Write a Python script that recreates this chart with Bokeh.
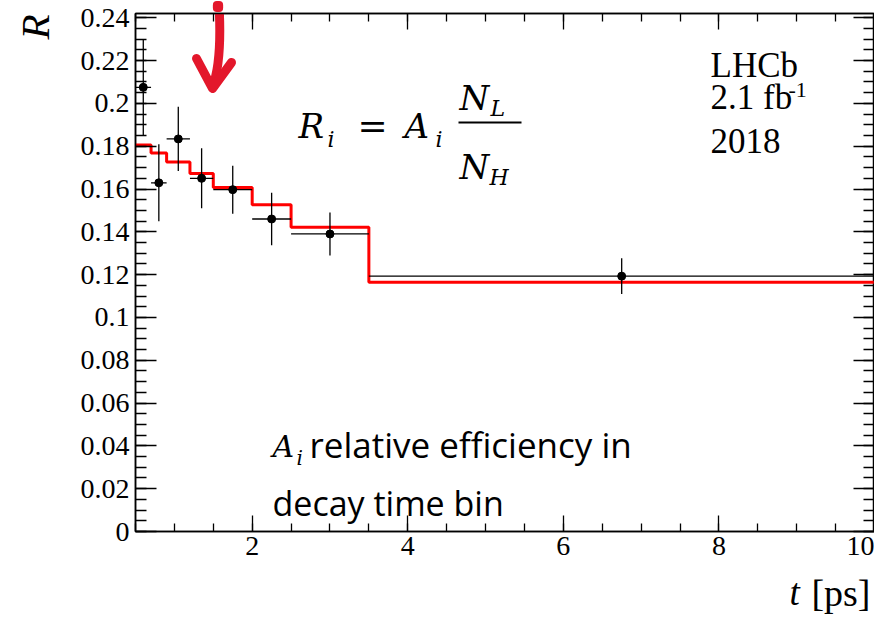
import numpy as np
from bokeh.plotting import figure
from bokeh.models import Range1d, LinearAxis, FixedTicker, Label, PrintfTickFormatter
from bokeh.embed import file_html
from bokeh.resources import INLINE

# ---------------- data ----------------
bin_edges = [0.5, 0.7, 0.9, 1.2, 1.5, 2.0, 2.5, 3.5, 10.0]
ratio = [0.2075, 0.1629, 0.1834, 0.1650, 0.1597, 0.1460, 0.1390, 0.1193]
ratio_err = [0.0225, 0.0180, 0.0150, 0.0140, 0.0112, 0.0123, 0.0100, 0.0084]
model = [0.1806, 0.1768, 0.1726, 0.1673, 0.1607, 0.1527, 0.1421, 0.1164]
x_major = [2, 4, 6, 8, 10]
y_major = [round(0.02 * i, 2) for i in range(13)]

# ---------------- layout ----------------
W, H = 874, 624
FL, FR, FT, FB = 135, 874, 13, 531
XMIN, XMAX, YMIN, YMAX = 0.5, 10.0, 0.0, 0.242

def X(px):
    return XMIN + (px - FL) / (FR - FL) * (XMAX - XMIN)

def Y(py):
    return YMIN + (FB - py) / (FB - FT) * (YMAX - YMIN)

p = figure(width=W, height=H, output_backend="svg", toolbar_location=None,
           x_range=Range1d(XMIN, XMAX), y_range=Range1d(YMIN, YMAX),
           min_border_left=FL, min_border_right=W - FR,
           min_border_top=FT, min_border_bottom=H - FB,
           x_axis_location=None, y_axis_location=None)
p.grid.visible = False
p.background_fill_color = "white"
p.border_fill_color = "white"
p.outline_line_color = "black"
p.outline_line_width = 1.5

xt = FixedTicker(ticks=x_major, minor_ticks=list(np.arange(0.5, 10.01, 0.5)))
yt = FixedTicker(ticks=y_major, minor_ticks=list(np.round(np.arange(0, 0.2426, 0.005), 3)))

def make_axis(ticker, major_in, minor_in, labels):
    ax = LinearAxis(ticker=ticker)
    ax.major_tick_in = major_in
    ax.major_tick_out = 0
    ax.minor_tick_in = minor_in
    ax.minor_tick_out = 0
    ax.major_tick_line_color = "black"
    ax.minor_tick_line_color = "black"
    ax.major_tick_line_width = 1.3
    ax.minor_tick_line_width = 1.3
    ax.axis_line_color = "black"
    ax.axis_line_width = 1.5
    ax.major_label_text_font = "Liberation Serif"
    ax.major_label_text_color = "black"
    if labels:
        ax.major_label_text_font_size = "28px"
        ax.formatter = PrintfTickFormatter(format="%g")
    else:
        ax.major_label_text_font_size = "0px"
        ax.major_label_standoff = 0
    return ax

ax_b = make_axis(xt, 16, 8, True)
ax_b.major_label_standoff = 5
ax_l = make_axis(yt, 21, 11, True)
ax_l.major_label_standoff = 6
ax_t = make_axis(xt, 16, 8, False)
ax_r = make_axis(yt, 21, 11, False)
p.add_layout(ax_b, "below")
p.add_layout(ax_l, "left")
p.add_layout(ax_t, "above")
p.add_layout(ax_r, "right")

# ---------------- model step (red) ----------------
p.step(x=bin_edges, y=model + [model[-1]], mode="after",
       line_color="#ff0000", line_width=3)

# ---------------- data points ----------------
edges = np.array(bin_edges)
centers = (edges[:-1] + edges[1:]) / 2
halfw = (edges[1:] - edges[:-1]) / 2
r = np.array(ratio)
e = np.array(ratio_err)
p.segment(x0=centers - halfw, y0=r, x1=centers + halfw, y1=r, line_color="black", line_width=1.3)
p.segment(x0=centers, y0=r - e, x1=centers, y1=r + e, line_color="black", line_width=1.3)
p.scatter(x=centers, y=r, size=8, color="black")

# ---------------- red hand-drawn arrow ----------------
ARROW = "#e3172b"
p.bezier(x0=[X(218)], y0=[Y(-4)], x1=[X(212)], y1=[Y(86)],
         cx0=[X(221)], cy0=[Y(40)], cx1=[X(219)], cy1=[Y(68)],
         line_color=ARROW, line_width=9, line_cap="round")
p.line(x=[X(196), X(212), X(231)], y=[Y(58), Y(88), Y(62)],
       line_color=ARROW, line_width=9, line_cap="round", line_join="round")
# the part of the stroke above the frame: a small red box in a side panel (not clipped)
p.add_layout(Label(x=X(217.5), y=Y(6), text=" ", text_font_size="1px",
                   text_align="center", text_baseline="middle",
                   background_fill_color=ARROW, padding=5, border_radius=4), "below")

# ---------------- texts ----------------
K = 0.34  # measured shift between requested anchor and glyph baseline

def make_label(px, py, text, font, size, style="normal", align="left", angle=0.0):
    if angle == 0.0:
        ax, ay = px, py - K * size
    else:
        ax, ay = px - K * size, py
    return Label(x=X(ax), y=Y(ay), text=text, text_font=font,
                 text_font_size=f"{size}px", text_font_style=style,
                 text_align=align, text_baseline="alphabetic",
                 text_color="black", angle=angle)

def lab(*args, **kw):
    p.add_layout(make_label(*args, **kw))

SERIF = "Liberation Serif"
MATH = "DejaVu Serif"
SANS = "Open Sans"

# axis titles (placed in side panels with spare room, so that the frame does not clip them)
p.add_layout(make_label(48, 14, "R", SERIF, 41, "italic", "right", np.pi / 2), "left")
p.add_layout(make_label(789, 605, "t", SERIF, 37, "italic"), "left")
p.add_layout(make_label(870, 605, "[ps]", SERIF, 38, "normal", "right"), "below")

# LHCb block
lab(710, 77, "LHCb", SERIF, 35)
lab(710, 109, "2.1 fb", SERIF, 35)
lab(788, 97, "-1", SERIF, 22)
lab(710, 152, "2018", SERIF, 35)

# formula R_i = A_i N_L / N_H
lab(298, 137, "R", MATH, 34, "italic")
lab(327, 146, "i", MATH, 22, "italic")
lab(357, 137, "=", MATH, 36)
lab(404, 137, "A", MATH, 34, "italic")
lab(435, 146, "i", MATH, 22, "italic")
lab(459, 109, "N", MATH, 34, "italic")
lab(490, 115, "L", MATH, 22, "italic")
lab(459, 178, "N", MATH, 34, "italic")
lab(489, 184, "H", MATH, 22, "italic")
p.segment(x0=[X(458)], y0=[Y(122)], x1=[X(521)], y1=[Y(122)], line_color="black", line_width=2)

# annotation text
lab(272, 456, "A", MATH, 30, "italic")
lab(296, 464, "i", MATH, 20, "italic")
lab(309, 456, "relative efficiency in", SANS, 35)
lab(272, 514, "decay time bin", SANS, 34)

open("out.html", "w").write(file_html(p, INLINE))
